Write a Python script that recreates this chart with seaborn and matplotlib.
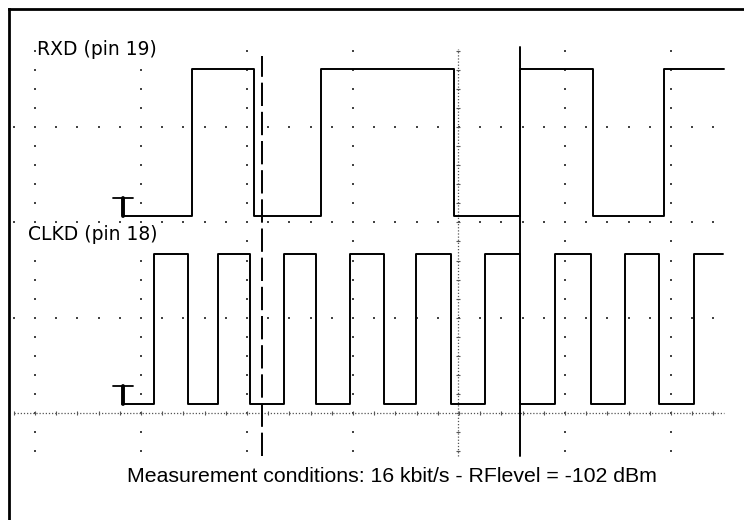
import numpy as np
import pandas as pd
import matplotlib
matplotlib.use("Agg")
import matplotlib.pyplot as plt
import seaborn as sns

# Scope traces (x in divisions, y in divisions)
rxd_edges = [0.84, 1.48, 2.07, 2.70, 3.95, 4.575, 5.26, 5.93, 6.50]
rxd_levels = [2.07, 3.61]          # low, high
clkd_edges = [0.82, 1.12, 1.44, 1.73, 2.03, 2.35, 2.65, 2.97, 3.29, 3.59,
              3.92, 4.25, 4.58, 4.91, 5.25, 5.57, 5.89, 6.22, 6.49]
clkd_levels = [0.094, 1.668]       # low, high

# Cursors
dashed_cursor = 2.14
solid_cursor = 4.575
center_x = 3.99
marker_x = 0.83

labels = ["RXD (pin 19)", "CLKD (pin 18)"]
caption = "Measurement conditions: 16 kbit/s - RFlevel = -102 dBm"


def step_frame(edges, levels, name):
    # start low, toggle at each edge, hold last level to the end point
    xs = list(edges)
    ys = []
    lvl = 0
    for i in range(len(edges)):
        ys.append(levels[lvl])
        lvl = 1 - lvl
    ys[-1] = ys[-2]
    return pd.DataFrame({"t": xs, "v": ys, "trace": name})


sns.set_style("white")

fig = plt.figure(figsize=(7.44, 5.20), dpi=100)
ax = fig.add_axes([9 / 744, -0.1, 1.0, (1 - 9 / 520) + 0.1])
ax.set_xlim(-0.2453, 6.7736)
ax.set_ylim(-1.668, 4.239)

# grid dots
col_y = np.arange(-0.4, 3.81, 0.2)
for cx in range(0, 7):
    if cx == 4:
        continue
    ax.scatter(np.full(len(col_y), cx), col_y, s=1.5, marker="s",
               color="#444444", linewidths=0, zorder=1)
row_x = np.arange(-0.2, 6.41, 0.2)
for ry in [1, 2, 3]:
    ax.scatter(row_x, np.full(len(row_x), ry), s=1.5, marker="s",
               color="#444444", linewidths=0, zorder=1)

# centre cross lines (dense dotted with minor ticks)
ax.plot([-0.2, 6.5], [0, 0], ls=(0, (1, 1.5)), lw=0.9, color="#555555", zorder=1)
ax.scatter(row_x, np.zeros(len(row_x)), s=10, marker="|", color="#555555",
           linewidths=0.8, zorder=1)
ax.plot([center_x, center_x], [-0.45, 3.82], ls=(0, (1, 1.5)), lw=0.9,
        color="#555555", zorder=1)
ax.scatter(np.full(len(col_y), center_x), col_y, s=10, marker="_",
           color="#555555", linewidths=0.8, zorder=1)

# cursors
ax.plot([dashed_cursor, dashed_cursor], [-0.45, 3.75], ls=(0, (12, 3)),
        lw=1.4, color="black", zorder=2)
ax.plot([solid_cursor, solid_cursor], [-0.45, 3.84], lw=1.4,
        color="black", zorder=2)

# traces
df = pd.concat([step_frame(rxd_edges, rxd_levels, "RXD"),
                step_frame(clkd_edges, clkd_levels, "CLKD")])
for name, part in df.groupby("trace"):
    sns.lineplot(data=part, x="t", y="v", ax=ax, drawstyle="steps-post",
                 color="black", lw=1.4, estimator=None, sort=False,
                 legend=False, zorder=3)

# ground level markers
for lvl in [rxd_levels[0], clkd_levels[0]]:
    ax.plot([marker_x - 0.09, marker_x + 0.09], [lvl + 0.19, lvl + 0.19],
            color="black", lw=1.3, zorder=4)
    ax.plot([marker_x, marker_x], [lvl, lvl + 0.19], color="black",
            lw=2.8, zorder=4)

ax.text(0.02, 3.81, labels[0], ha="left", va="center", fontsize=13.5,
        family="DejaVu Sans", color="black",
        bbox=dict(facecolor="white", edgecolor="none", pad=0.5))
ax.text(-0.066, 1.87, labels[1], ha="left", va="center", fontsize=13.5,
        family="DejaVu Sans", color="black",
        bbox=dict(facecolor="white", edgecolor="none", pad=0.5))
ax.text(3.37, -0.67, caption, ha="center", va="center", fontsize=15.3,
        family="Liberation Sans", color="black")

ax.set_xticks([])
ax.set_yticks([])
ax.set_xlabel("")
ax.set_ylabel("")
for side in ["right", "bottom"]:
    ax.spines[side].set_visible(False)
for side in ["left", "top"]:
    ax.spines[side].set_visible(True)
    ax.spines[side].set_linewidth(2)
    ax.spines[side].set_color("black")

fig.savefig("out.png", dpi=100)
